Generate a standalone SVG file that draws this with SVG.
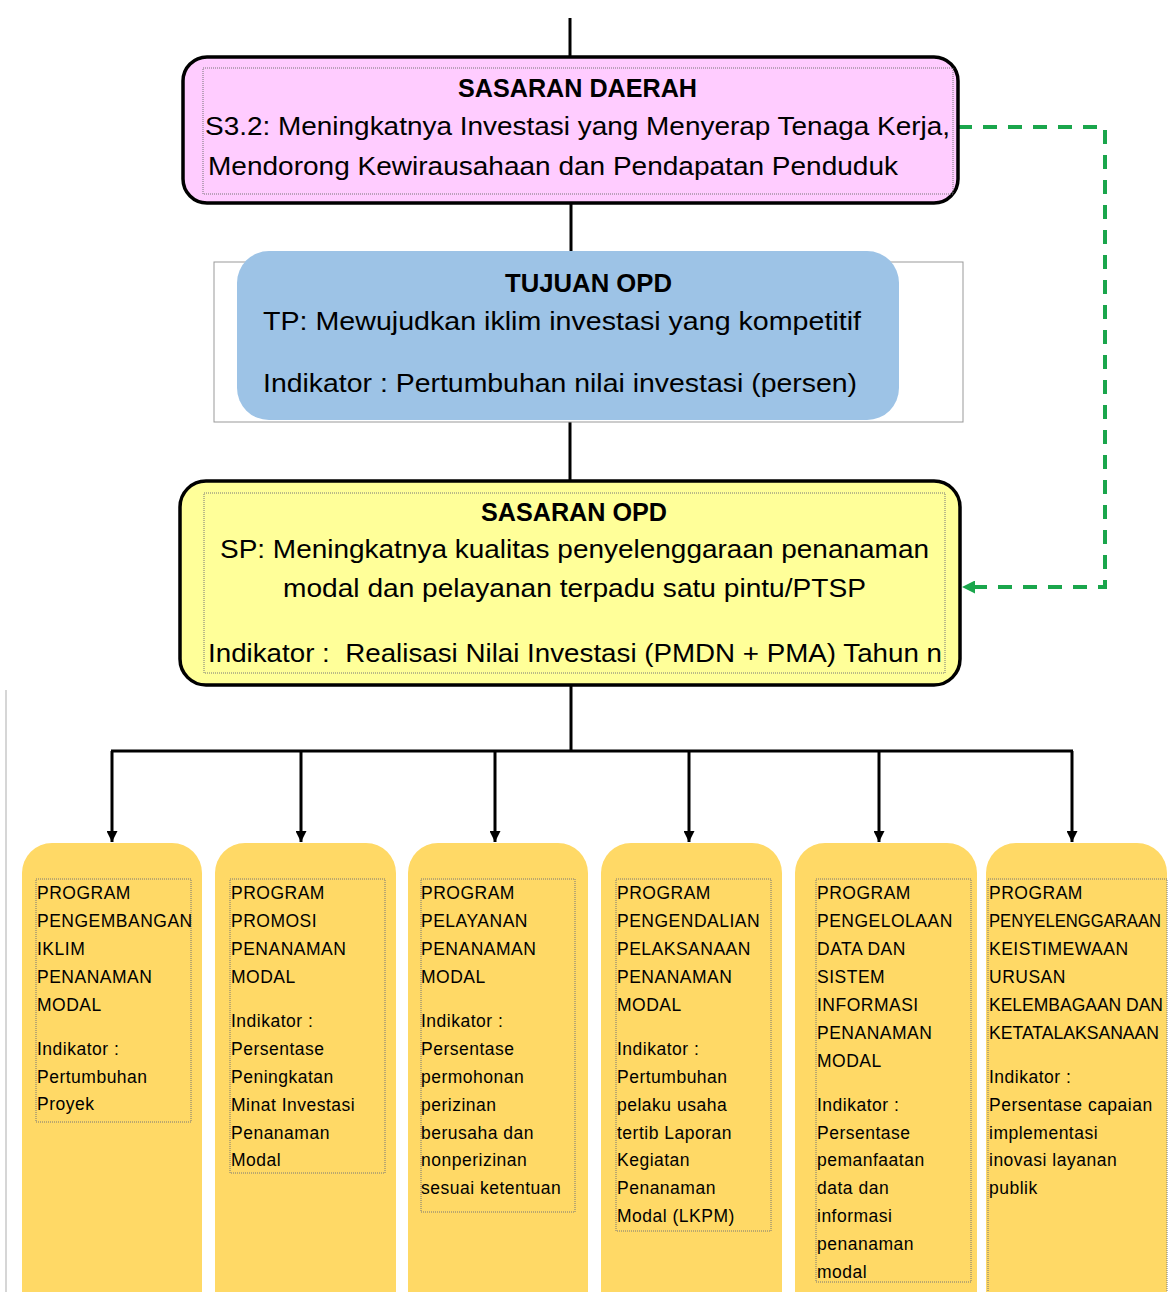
<svg xmlns="http://www.w3.org/2000/svg" width="1169" height="1292" viewBox="0 0 1169 1292">
<defs>
<marker id="ah" markerWidth="12" markerHeight="11" refX="11" refY="5.5" orient="auto" markerUnits="userSpaceOnUse">
<path d="M0,0 L11,5.5 L0,11 Z" fill="#000"/>
</marker>
<marker id="ag" markerWidth="14" markerHeight="13" refX="13" refY="6.5" orient="auto" markerUnits="userSpaceOnUse">
<path d="M0,0 L13,6.5 L0,13 Z" fill="#1AA64C"/>
</marker>
</defs>
<style>
.t{font-family:"Liberation Sans",Arial,sans-serif;fill:#000}
.h{font-weight:bold;font-size:25px}
.b{font-size:26px}
.p{font-size:17.5px;letter-spacing:0.5px}
.ns{letter-spacing:0}
.ln{stroke:#000;stroke-width:3;fill:none}
.dot{fill:none;stroke:#777;stroke-width:1;stroke-dasharray:1 1}
.prog{fill:#FFD966}
</style>
<rect width="1169" height="1292" fill="#fff"/>
<line x1="6" y1="690" x2="6" y2="1292" stroke="#c8c8c8" stroke-width="1.5"/>
<g id="connectors">
<line class="ln" x1="570" y1="18" x2="570" y2="57"/>
<line class="ln" x1="571" y1="203" x2="571" y2="252"/>
<line class="ln" x1="570" y1="420" x2="570" y2="481"/>
<line class="ln" x1="571" y1="685" x2="571" y2="751"/>
<line class="ln" x1="111" y1="751" x2="1073" y2="751"/>
<line class="ln" x1="112" y1="751" x2="112" y2="842" marker-end="url(#ah)"/>
<line class="ln" x1="301" y1="751" x2="301" y2="842" marker-end="url(#ah)"/>
<line class="ln" x1="495" y1="751" x2="495" y2="842" marker-end="url(#ah)"/>
<line class="ln" x1="689" y1="751" x2="689" y2="842" marker-end="url(#ah)"/>
<line class="ln" x1="879" y1="751" x2="879" y2="842" marker-end="url(#ah)"/>
<line class="ln" x1="1072" y1="751" x2="1072" y2="842" marker-end="url(#ah)"/>
<path d="M958,127 H1105 V587 H962" fill="none" stroke="#1AA64C" stroke-width="4" stroke-dasharray="14 11" marker-end="url(#ag)"/>
</g>
<g id="sasaran-daerah">
<rect x="183" y="57" width="775" height="146" rx="24" fill="#FFCCFF" stroke="#000" stroke-width="3.5"/>
<rect class="dot" x="203" y="68" width="750" height="126"/>
<text class="t h" x="458" y="97" textLength="239" lengthAdjust="spacingAndGlyphs">SASARAN DAERAH</text>
<text class="t b" x="205" y="135" textLength="745" lengthAdjust="spacingAndGlyphs">S3.2: Meningkatnya Investasi yang Menyerap Tenaga Kerja,</text>
<text class="t b" x="208" y="175" textLength="690" lengthAdjust="spacingAndGlyphs">Mendorong Kewirausahaan dan Pendapatan Penduduk</text>
</g>
<g id="tujuan-opd">
<rect x="214" y="262" width="749" height="160" fill="#fff" stroke="#999" stroke-width="1"/>
<rect x="237" y="251" width="662" height="169" rx="32" fill="#9DC3E6"/>
<text class="t h" x="505" y="292" textLength="167" lengthAdjust="spacingAndGlyphs">TUJUAN OPD</text>
<text class="t b" x="263" y="330" textLength="598" lengthAdjust="spacingAndGlyphs">TP: Mewujudkan iklim investasi yang kompetitif</text>
<text class="t b" x="263" y="392" textLength="594" lengthAdjust="spacingAndGlyphs">Indikator : Pertumbuhan nilai investasi (persen)</text>
</g>
<g id="sasaran-opd">
<rect x="180" y="481" width="780" height="204" rx="26" fill="#FFFF99" stroke="#000" stroke-width="3.5"/>
<rect class="dot" x="204" y="493" width="741" height="180"/>
<text class="t h" x="481" y="521" textLength="186" lengthAdjust="spacingAndGlyphs">SASARAN OPD</text>
<text class="t b" x="220" y="558" textLength="709" lengthAdjust="spacingAndGlyphs">SP: Meningkatnya kualitas penyelenggaraan penanaman</text>
<text class="t b" x="283" y="597" textLength="583" lengthAdjust="spacingAndGlyphs">modal dan pelayanan terpadu satu pintu/PTSP</text>
<text class="t b" x="208" y="662" textLength="734" lengthAdjust="spacingAndGlyphs" style="white-space:pre">Indikator :  Realisasi Nilai Investasi (PMDN + PMA) Tahun n</text>
</g>
<g id="program-1">
<rect class="prog" x="22" y="843" width="180" height="480" rx="30"/>
<rect class="dot" x="36" y="879" width="155" height="243"/>
<text class="t p"><tspan x="37" y="899">PROGRAM</tspan><tspan x="37" y="927">PENGEMBANGAN</tspan><tspan x="37" y="955">IKLIM</tspan><tspan x="37" y="983">PENANAMAN</tspan><tspan x="37" y="1011">MODAL</tspan><tspan x="37" y="1055">Indikator :</tspan><tspan x="37" y="1083">Pertumbuhan</tspan><tspan x="37" y="1110">Proyek</tspan></text>
</g>
<g id="program-2">
<rect class="prog" x="215" y="843" width="181" height="480" rx="30"/>
<rect class="dot" x="230" y="879" width="155" height="294"/>
<text class="t p"><tspan x="231" y="899">PROGRAM</tspan><tspan x="231" y="927">PROMOSI</tspan><tspan x="231" y="955">PENANAMAN</tspan><tspan x="231" y="983">MODAL</tspan><tspan x="231" y="1027">Indikator :</tspan><tspan x="231" y="1055">Persentase</tspan><tspan x="231" y="1083">Peningkatan</tspan><tspan x="231" y="1111">Minat Investasi</tspan><tspan x="231" y="1139">Penanaman</tspan><tspan x="231" y="1166">Modal</tspan></text>
</g>
<g id="program-3">
<rect class="prog" x="408" y="843" width="180" height="480" rx="30"/>
<rect class="dot" x="421" y="879" width="154" height="333"/>
<text class="t p"><tspan x="421" y="899">PROGRAM</tspan><tspan x="421" y="927">PELAYANAN</tspan><tspan x="421" y="955">PENANAMAN</tspan><tspan x="421" y="983">MODAL</tspan><tspan x="421" y="1027">Indikator :</tspan><tspan x="421" y="1055">Persentase</tspan><tspan x="421" y="1083">permohonan</tspan><tspan x="421" y="1111">perizinan</tspan><tspan x="421" y="1139">berusaha dan</tspan><tspan x="421" y="1166">nonperizinan</tspan><tspan x="421" y="1194">sesuai ketentuan</tspan></text>
</g>
<g id="program-4">
<rect class="prog" x="601" y="843" width="181" height="480" rx="30"/>
<rect class="dot" x="616" y="879" width="155" height="352"/>
<text class="t p"><tspan x="617" y="899">PROGRAM</tspan><tspan x="617" y="927">PENGENDALIAN</tspan><tspan x="617" y="955">PELAKSANAAN</tspan><tspan x="617" y="983">PENANAMAN</tspan><tspan x="617" y="1011">MODAL</tspan><tspan x="617" y="1055">Indikator :</tspan><tspan x="617" y="1083">Pertumbuhan</tspan><tspan x="617" y="1111">pelaku usaha</tspan><tspan x="617" y="1139">tertib Laporan</tspan><tspan x="617" y="1166">Kegiatan</tspan><tspan x="617" y="1194">Penanaman</tspan><tspan x="617" y="1222">Modal (LKPM)</tspan></text>
</g>
<g id="program-5">
<rect class="prog" x="795" y="843" width="182" height="480" rx="30"/>
<rect class="dot" x="816" y="879" width="155" height="403"/>
<text class="t p"><tspan x="817" y="899">PROGRAM</tspan><tspan x="817" y="927">PENGELOLAAN</tspan><tspan x="817" y="955">DATA DAN</tspan><tspan x="817" y="983">SISTEM</tspan><tspan x="817" y="1011">INFORMASI</tspan><tspan x="817" y="1039">PENANAMAN</tspan><tspan x="817" y="1067">MODAL</tspan><tspan x="817" y="1111">Indikator :</tspan><tspan x="817" y="1139">Persentase</tspan><tspan x="817" y="1166">pemanfaatan</tspan><tspan x="817" y="1194">data dan</tspan><tspan x="817" y="1222">informasi</tspan><tspan x="817" y="1250">penanaman</tspan><tspan x="817" y="1278">modal</tspan></text>
</g>
<g id="program-6">
<rect class="prog" x="986" y="843" width="181" height="480" rx="30"/>
<rect class="dot" x="988" y="879" width="179" height="430"/>
<text class="t p"><tspan x="989" y="899">PROGRAM</tspan><tspan class="ns" x="989" y="927" textLength="172" lengthAdjust="spacingAndGlyphs">PENYELENGGARAAN</tspan><tspan x="989" y="955">KEISTIMEWAAN</tspan><tspan x="989" y="983">URUSAN</tspan><tspan class="ns" x="989" y="1011" textLength="174" lengthAdjust="spacingAndGlyphs">KELEMBAGAAN DAN</tspan><tspan class="ns" x="989" y="1039" textLength="170" lengthAdjust="spacingAndGlyphs">KETATALAKSANAAN</tspan><tspan x="989" y="1083">Indikator :</tspan><tspan x="989" y="1111">Persentase capaian</tspan><tspan x="989" y="1139">implementasi</tspan><tspan x="989" y="1166">inovasi layanan</tspan><tspan x="989" y="1194">publik</tspan></text>
</g>
</svg>
